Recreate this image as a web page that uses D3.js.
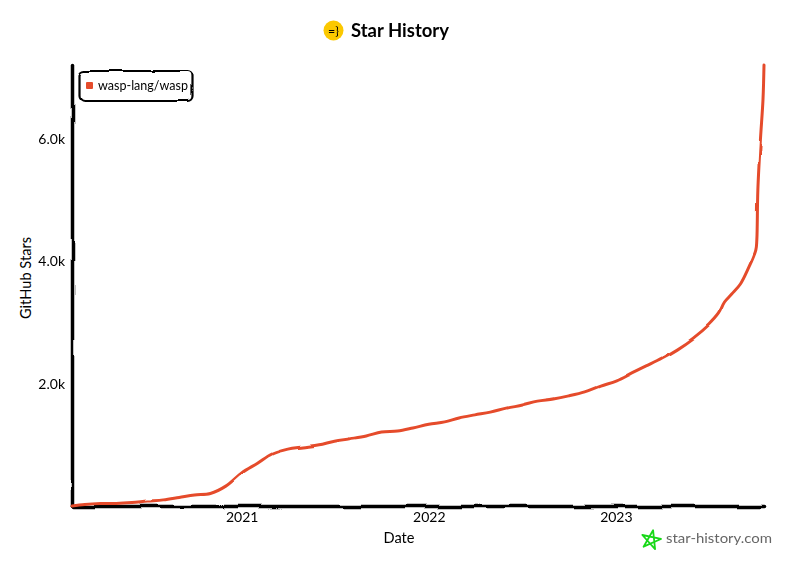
<!DOCTYPE html>
<html>
<head>
<meta charset="utf-8">
<title>Star History</title>
<script src="https://cdn.jsdelivr.net/npm/d3@7"></script>
<style>
  html, body { margin: 0; padding: 0; background: #fff; }
  svg { display: block; }
  text { font-family: "Lato", "Noto Sans", sans-serif; fill: #000; }
</style>
</head>
<body>
<svg id="chart" width="800" height="571"></svg>
<script>
const dates = [
  '2020-02-05','2020-03-01','2020-04-01','2020-05-01','2020-06-01','2020-07-01','2020-08-01','2020-09-01',
  '2020-10-01','2020-11-01','2020-12-01','2021-01-01','2021-02-01','2021-03-01','2021-04-01','2021-05-01',
  '2021-06-01','2021-07-01','2021-08-01','2021-09-01','2021-10-01','2021-11-01','2021-12-01','2022-01-01',
  '2022-02-01','2022-03-01','2022-04-01','2022-05-01','2022-06-01','2022-07-01','2022-08-01','2022-09-01',
  '2022-10-01','2022-11-01','2022-12-01','2023-01-01','2023-02-01','2023-03-01','2023-04-01','2023-05-01',
  '2023-06-01','2023-07-01','2023-07-20','2023-08-01','2023-08-15','2023-09-01','2023-09-15','2023-10-01',
  '2023-10-03','2023-10-05','2023-10-10','2023-10-15','2023-10-17'
];
const stars = [
  0,25,40,42,57,80,100,140,
  180,205,325,540,700,850,930,965,
  1000,1060,1100,1145,1210,1225,1275,1335,
  1375,1440,1490,1535,1600,1650,1715,1750,
  1800,1865,1960,2045,2175,2290,2420,2565,
  2745,2960,3140,3335,3465,3630,3860,4185,
  4350,5165,5985,6640,7210
];
const xTicks = ['2021-01-01','2022-01-01','2023-01-01'];
const yTicks = [2000,4000,6000];
const seriesName = 'wasp-lang/wasp';

const parseDay = d3.timeParse('%Y-%m-%d');
const svg = d3.select('#chart');

// wobbly hand drawn look
const defs = svg.append('defs');
function wobble(id, freq, scale, seed, blur) {
  const f = defs.append('filter').attr('id', id)
    .attr('filterUnits', 'userSpaceOnUse')
    .attr('x', -200).attr('y', -700).attr('width', 1200).attr('height', 1400)
    .attr('color-interpolation-filters', 'sRGB');
  f.append('feTurbulence').attr('type', 'fractalNoise')
    .attr('baseFrequency', freq).attr('numOctaves', 1).attr('seed', seed).attr('result', 'n');
  f.append('feDisplacementMap').attr('in', 'SourceGraphic').attr('in2', 'n')
    .attr('scale', scale).attr('xChannelSelector', 'R').attr('yChannelSelector', 'G');
  if (blur) f.append('feGaussianBlur').attr('stdDeviation', blur);
}
wobble('rough', 0.03, 6, 4, 0.45);
wobble('roughLine', 0.03, 3, 9, 0.45);
wobble('roughText', 0.15, 1, 2, 0);

const x = d3.scaleTime()
  .domain([parseDay(dates[0]), parseDay(dates[dates.length - 1])])
  .range([72, 764]);
const y = d3.scaleLinear().domain([0, 7210]).range([506, 65]);

// axes
const xAxis = svg.append('g').attr('transform', 'translate(0,506)')
  .call(d3.axisBottom(x).tickValues(xTicks.map(parseDay)).tickSize(0).tickPadding(6).tickFormat(d3.timeFormat('%Y')));
const yAxis = svg.append('g').attr('transform', 'translate(72,0)')
  .call(d3.axisLeft(y).tickValues(yTicks).tickSize(0).tickPadding(7).tickFormat(d => d3.format('.1f')(d / 1000) + 'k'));

[xAxis, yAxis].forEach(a => {
  a.attr('fill', null).attr('font-family', null);
  a.select('.domain').attr('stroke', '#000').attr('stroke-width', 3.5).attr('stroke-linecap', 'round')
    .attr('filter', 'url(#rough)');
  a.selectAll('text').attr('font-size', 14).attr('fill', '#000').attr('filter', 'url(#roughText)');
});

// the series
const line = d3.line()
  .x((d, i) => x(parseDay(dates[i])))
  .y(d => y(d))
  .curve(d3.curveCatmullRom.alpha(0.5));

svg.append('path')
  .datum(stars)
  .attr('d', line)
  .attr('fill', 'none')
  .attr('stroke', '#e54b2b')
  .attr('stroke-width', 3)
  .attr('stroke-linecap', 'round')
  .attr('filter', 'url(#roughLine)');

// axis titles
function label(txt, px, py, size, width, anchor) {
  return svg.append('text')
    .attr('x', px).attr('y', py)
    .attr('font-size', size)
    .attr('text-anchor', anchor || 'start')
    .attr('textLength', width)
    .attr('lengthAdjust', 'spacingAndGlyphs')
    .attr('filter', 'url(#roughText)')
    .text(txt);
}
label('Date', 399, 543, 15, 31, 'middle');
label('GitHub Stars', 0, 0, 14.5, 82, 'middle')
  .attr('filter', null)
  .attr('transform', 'translate(31,278) rotate(-90)');

// title with logo
svg.append('circle').attr('cx', 333.5).attr('cy', 30.5).attr('r', 10).attr('fill', '#fbc800');
label('=}', 333.5, 34.5, 11, 11, 'middle');
label('Star History', 351, 37, 18, 98).attr('font-weight', 700);

// legend
svg.append('rect')
  .attr('x', 79.5).attr('y', 71).attr('width', 113).attr('height', 30).attr('rx', 5)
  .attr('fill', '#fff').attr('stroke', '#000').attr('stroke-width', 2.2)
  .attr('filter', 'url(#roughLine)');
svg.append('rect')
  .attr('x', 86).attr('y', 82).attr('width', 7).attr('height', 7).attr('rx', 1)
  .attr('fill', '#e54b2b');
label(seriesName, 98, 90, 14, 90);

// footer: pentagram logo
const starPts = [0, 2, 4, 1, 3].map(k => [k * 2 * Math.PI / 5, 10]);
svg.append('path')
  .attr('d', d3.lineRadial().curve(d3.curveLinearClosed)(starPts))
  .attr('transform', 'translate(651,540) rotate(12)')
  .attr('fill', 'none').attr('stroke', '#18d818').attr('stroke-width', 1.8)
  .attr('stroke-linejoin', 'round');
label('star-history.com', 666, 543, 14, 106).style('fill', '#666');
</script>
</body>
</html>
